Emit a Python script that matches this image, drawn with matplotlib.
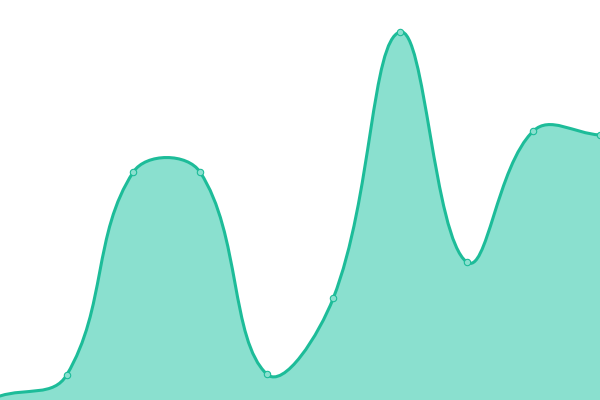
import matplotlib
matplotlib.use("Agg")
import matplotlib.pyplot as plt
import numpy as np
from matplotlib.path import Path
from matplotlib.patches import PathPatch

# one point per hidden category, y on a 0..400 scale
categories = list(range(10))
values = [4, 25, 228, 228, 26, 102, 368, 138, 269, 265]

LINE = "#1dbc99"
FILL = "#8ae0cf"
TENSION = 0.4  # chart.js style spline

fig = plt.figure(figsize=(6, 4), dpi=100)
ax = fig.add_axes([0, 0, 1, 1])
ax.set_xlim(0, len(categories) - 1)
ax.set_ylim(0, 400)
ax.axis("off")

x = np.array(categories, dtype=float)
pts = ax.transData.transform(np.column_stack([x, values]))  # pixel space
n = len(pts)
x0, y0, x1, y1 = ax.bbox.extents

cp_in, cp_out = [], []
for i in range(n):
    cur = pts[i]
    prev = pts[i - 1] if i > 0 else cur
    nxt = pts[i + 1] if i < n - 1 else cur
    d01 = np.hypot(*(cur - prev))
    d12 = np.hypot(*(nxt - cur))
    tot = d01 + d12
    s01 = d01 / tot if tot else 0
    s12 = d12 / tot if tot else 0
    a = cur - TENSION * s01 * (nxt - prev)
    b = cur + TENSION * s12 * (nxt - prev)
    # keep control points inside the chart area
    a = np.clip(a, [x0, y0], [x1, y1])
    b = np.clip(b, [x0, y0], [x1, y1])
    cp_in.append(a)
    cp_out.append(b)

verts = [pts[0]]
codes = [Path.MOVETO]
for i in range(n - 1):
    verts += [cp_out[i], cp_in[i + 1], pts[i + 1]]
    codes += [Path.CURVE4] * 3

inv = ax.transData.inverted()
curve = inv.transform(np.array(verts))

fill_verts = np.vstack([curve, [[x[-1], 0], [x[0], 0], [x[0], values[0]]]])
fill_codes = codes + [Path.LINETO, Path.LINETO, Path.CLOSEPOLY]
ax.add_patch(PathPatch(Path(fill_verts, fill_codes), facecolor=FILL,
                       edgecolor="none", zorder=1))
ax.add_patch(PathPatch(Path(curve, codes), facecolor="none", edgecolor=LINE,
                       lw=2.2, capstyle="round", joinstyle="round", zorder=2))

# markers on the inner points only; the edge ones sit under the frame
ax.plot(x[1:], values[1:], "o", ms=4.6, mfc=FILL, mec=LINE, mew=0.8, zorder=3,
        clip_on=True)

fig.savefig("out.png", dpi=100)
